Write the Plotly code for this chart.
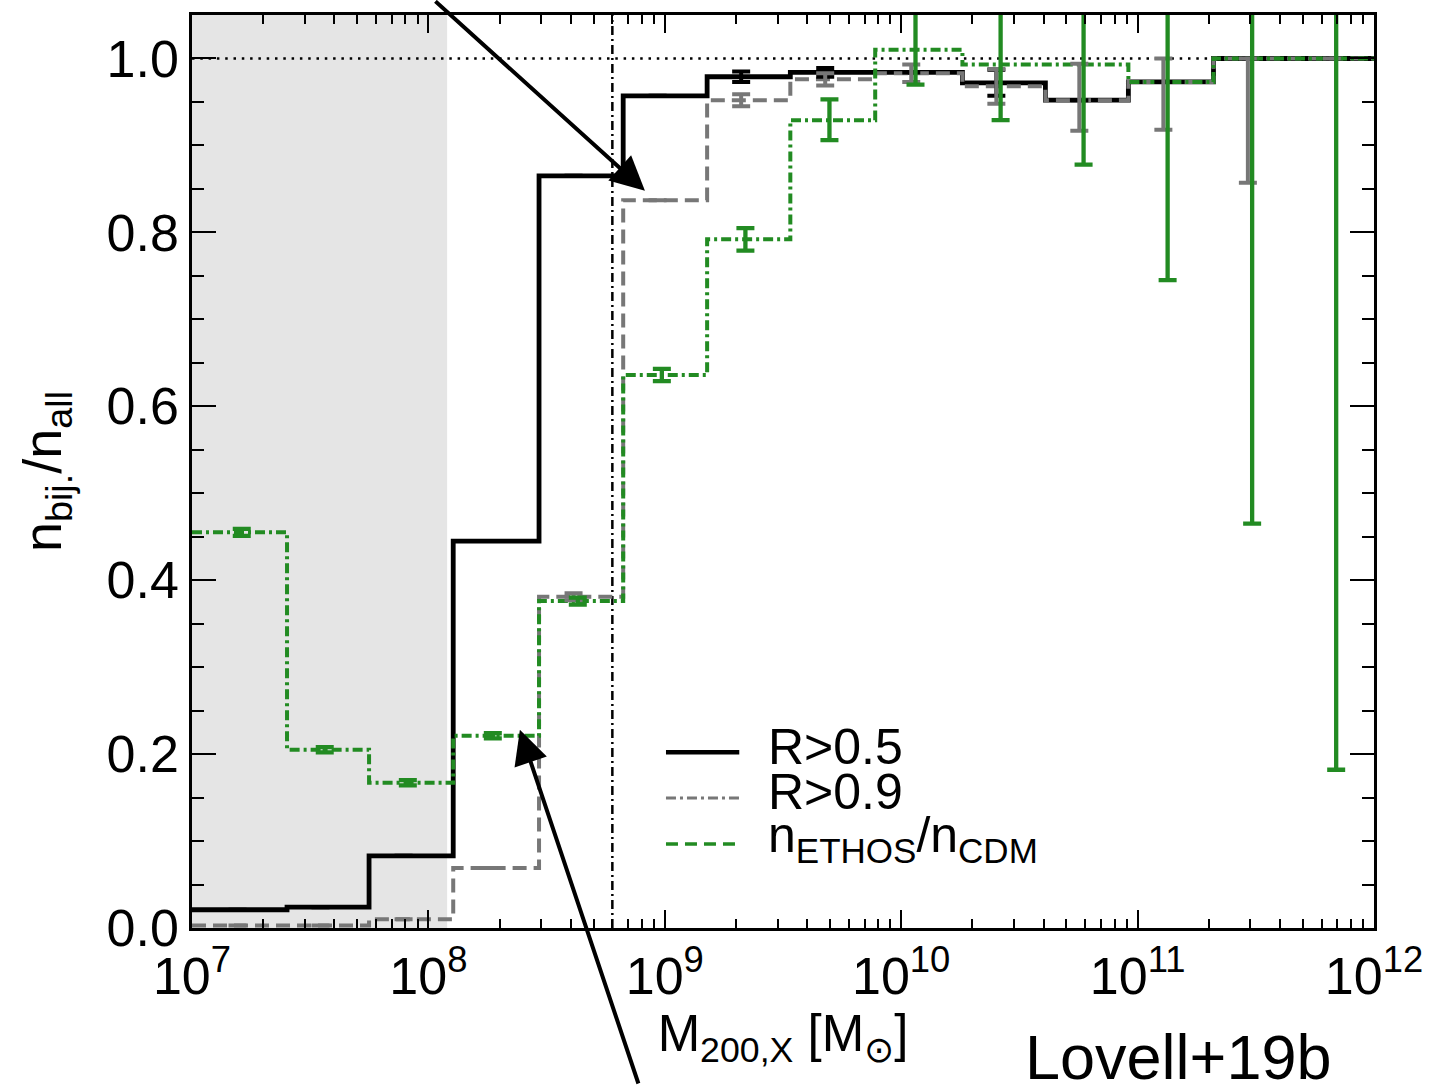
import plotly.graph_objects as go

# ---- data -------------------------------------------------------------
# log10 of the halo-mass bin edges [M_sun]
log_edges = [7.047, 7.402, 7.749, 8.105, 8.468, 8.824, 9.179, 9.531, 9.890,
             10.259, 10.610, 10.961, 11.321, 11.676, 12.032]

# bijective-match fraction, R > 0.5
frac_r05 = [0.021, 0.024, 0.083, 0.445, 0.865, 0.957, 0.979, 0.984, 0.984,
            0.972, 0.952, 0.973, 1.000, 1.000]
err_r05_hi = [0.000, 0.000, 0.000, 0.000, 0.000, 0.000, 0.006, 0.005, 0.000,
              0.015, 0.000, 0.000, 0.000, 0.000]
err_r05_lo = [0.000, 0.000, 0.000, 0.000, 0.000, 0.000, 0.006, 0.005, 0.000,
              0.015, 0.000, 0.000, 0.000, 0.000]

# bijective-match fraction, R > 0.9
frac_r09 = [0.003, 0.003, 0.010, 0.069, 0.381, 0.837, 0.952, 0.976, 0.983,
            0.968, 0.952, 0.973, 1.000, 1.000]
err_r09_hi = [0.000, 0.000, 0.000, 0.000, 0.004, 0.000, 0.007, 0.007, 0.010,
              0.020, 0.042, 0.027, 0.000, 0.000]
err_r09_lo = [0.000, 0.000, 0.000, 0.000, 0.004, 0.000, 0.007, 0.007, 0.010,
              0.020, 0.035, 0.055, 0.143, 0.000]

# halo-count ratio n_ETHOS / n_CDM
ratio_ethos_cdm = [0.455, 0.205, 0.167, 0.221, 0.376, 0.636, 0.792, 0.929,
                   1.010, 0.993, 0.993, 0.973, 1.000, 1.000]
err_ratio_hi = [0.004, 0.003, 0.003, 0.003, 0.004, 0.007, 0.013, 0.024,
                0.050, 0.064, 0.115, 0.228, 0.535, 0.818]
err_ratio_lo = [0.004, 0.003, 0.003, 0.003, 0.004, 0.007, 0.013, 0.023,
                0.040, 0.064, 0.115, 0.228, 0.535, 0.818]

# resolution limit (shaded) and half-mode mass (dash-dot line) [M_sun]
m_resolved = 1.2e8
m_halfmode = 6.0e8

x_tickvals = [1e7, 1e8, 1e9, 1e10, 1e11, 1e12]
x_ticktext = ["10<sup>7</sup>", "10<sup>8</sup>", "10<sup>9</sup>",
              "10<sup>10</sup>", "10<sup>11</sup>", "10<sup>12</sup>"]
y_tickvals = [0.0, 0.2, 0.4, 0.6, 0.8, 1.0]
y_ticktext = ["0.0", "0.2", "0.4", "0.6", "0.8", "1.0"]

X_RANGE = [7.0, 12.0]   # log10
Y_RANGE = [0.0, 1.05]

# ---- styling ----------------------------------------------------------
BLACK = "#000000"
GREY = "#777777"
GREEN = "#228B22"
FONT = "Liberation Sans, Arial, Helvetica, sans-serif"

# step-line vertices: left edge of every bin, then the axis end
step_x = [10 ** X_RANGE[0]] + [10 ** e for e in log_edges[1:-1]] + [10 ** X_RANGE[1]]
centres = [(a + b) / 2 for a, b in zip(log_edges[:-1], log_edges[1:])]
xc_green = [10 ** (c - 0.014) for c in centres]
xc_grey = [10 ** (c - 0.032) for c in centres]


def steps(vals):
    return vals + [vals[-1]]


fig = go.Figure()

# shaded region below the resolution limit
fig.add_trace(go.Scatter(
    x=[10 ** X_RANGE[0], m_resolved, m_resolved, 10 ** X_RANGE[0]],
    y=[Y_RANGE[0], Y_RANGE[0], Y_RANGE[1], Y_RANGE[1]],
    fill="toself", fillcolor="#e5e5e5", line=dict(width=0),
    mode="lines", hoverinfo="skip", showlegend=False))

# reference lines
fig.add_trace(go.Scatter(
    x=[10 ** X_RANGE[0], 10 ** X_RANGE[1]], y=[1.0, 1.0], mode="lines",
    line=dict(color=BLACK, width=2.5, dash="2.5px,5.8px"), showlegend=False))
fig.add_trace(go.Scatter(
    x=[m_halfmode, m_halfmode], y=Y_RANGE, mode="lines",
    line=dict(color=BLACK, width=2.5, dash="9px,4px,2px,4px"), showlegend=False))

# step histograms
fig.add_trace(go.Scatter(
    x=step_x, y=steps(frac_r05), mode="lines", line_shape="hv",
    line=dict(color=BLACK, width=4.8), showlegend=False))
fig.add_trace(go.Scatter(
    x=step_x, y=steps(frac_r09), mode="lines", line_shape="hv",
    line=dict(color=GREY, width=4, dash="14px,7px"), showlegend=False))
fig.add_trace(go.Scatter(
    x=step_x, y=steps(ratio_ethos_cdm), mode="lines", line_shape="hv",
    line=dict(color=GREEN, width=4, dash="10px,4px,3px,4px"), showlegend=False))

# error bars
invisible = dict(size=1, color="rgba(0,0,0,0)")
fig.add_trace(go.Scatter(
    x=xc_grey, y=frac_r05, mode="markers", marker=invisible, showlegend=False,
    error_y=dict(type="data", symmetric=False, array=err_r05_hi,
                 arrayminus=err_r05_lo, color=BLACK, thickness=4, width=9)))
fig.add_trace(go.Scatter(
    x=xc_grey, y=frac_r09, mode="markers", marker=invisible, showlegend=False,
    error_y=dict(type="data", symmetric=False, array=err_r09_hi,
                 arrayminus=err_r09_lo, color=GREY, thickness=4, width=9)))
fig.add_trace(go.Scatter(
    x=xc_green, y=ratio_ethos_cdm, mode="markers", marker=invisible,
    showlegend=False,
    error_y=dict(type="data", symmetric=False, array=err_ratio_hi,
                 arrayminus=err_ratio_lo, color=GREEN, thickness=4.3, width=9)))

# ---- axes -------------------------------------------------------------
fig.update_xaxes(
    type="log", range=X_RANGE, showline=True, linecolor=BLACK, linewidth=2.5,
    mirror="allticks", ticks="inside", ticklen=18, tickwidth=2, tickcolor=BLACK,
    tickvals=x_tickvals, ticktext=x_ticktext, showgrid=False, zeroline=False,
    tickfont=dict(size=52, color=BLACK), ticklabelstandoff=1,
    minor=dict(ticks="inside", ticklen=9, tickwidth=2, tickcolor=BLACK,
               dtick="D1", showgrid=False),
    title=dict(text="M<sub>200,X</sub> [M<sub>\u2299</sub>]",
               font=dict(size=51, color=BLACK), standoff=4))
fig.update_yaxes(
    range=Y_RANGE, showline=True, linecolor=BLACK, linewidth=2.5,
    mirror="allticks", ticks="inside", ticklen=24, tickwidth=2, tickcolor=BLACK,
    tickvals=y_tickvals, ticktext=y_ticktext, showgrid=False, zeroline=False,
    tickfont=dict(size=52, color=BLACK), ticklabelstandoff=0,
    minor=dict(ticks="inside", ticklen=12, tickwidth=2, tickcolor=BLACK,
               dtick=0.05, showgrid=False),
    title=dict(text="n<sub>bij.</sub>/n<sub>all</sub>",
               font=dict(size=54, color=BLACK), standoff=28))

# ---- legend drawn by hand --------------------------------------------
legend_rows = [
    ("R>0.5", dict(color=BLACK, width=4.5, dash="solid"), 0.1925),
    ("R>0.9", dict(color=GREY, width=3, dash="10px,4px,3px,4px"), 0.1425),
    ("n<sub>ETHOS</sub>/n<sub>CDM</sub>", dict(color=GREEN, width=3.5, dash="12px,7px"), 0.0920),
]
shapes = []
annotations = []
for label, style, ypos in legend_rows:
    shapes.append(dict(type="line", xref="paper", yref="paper",
                       x0=0.4010, x1=0.4630, y0=ypos, y1=ypos, line=style))
    annotations.append(dict(text=label, xref="paper", yref="paper",
                            x=0.4855, y=ypos + 0.006, xanchor="left",
                            yanchor="middle", showarrow=False,
                            font=dict(size=50, color=BLACK)))

# pointer arrows
annotations.append(dict(x=8.916, y=0.848, xref="x", yref="y", text="",
                        showarrow=True, arrowhead=2, arrowsize=1.7,
                        arrowwidth=4, arrowcolor=BLACK, ax=-211, ay=-207,
                        standoff=0))
annotations.append(dict(x=8.387, y=0.228, xref="x", yref="y", text="",
                        showarrow=True, arrowhead=2, arrowsize=1.7,
                        arrowwidth=4, arrowcolor=BLACK, ax=119, ay=372,
                        standoff=0))

# reference tag
annotations.append(dict(text="Lovell+19b", xref="paper", yref="paper",
                        x=0.7030, y=-0.1010, xanchor="left", yanchor="top",
                        showarrow=False, font=dict(size=63, color=BLACK)))

fig.update_layout(
    width=1449, height=1085,
    margin=dict(l=192, r=75, t=12, b=157),
    paper_bgcolor="white", plot_bgcolor="white",
    font=dict(family=FONT, color=BLACK),
    shapes=shapes, annotations=annotations, showlegend=False)

fig.write_html("out.html")
